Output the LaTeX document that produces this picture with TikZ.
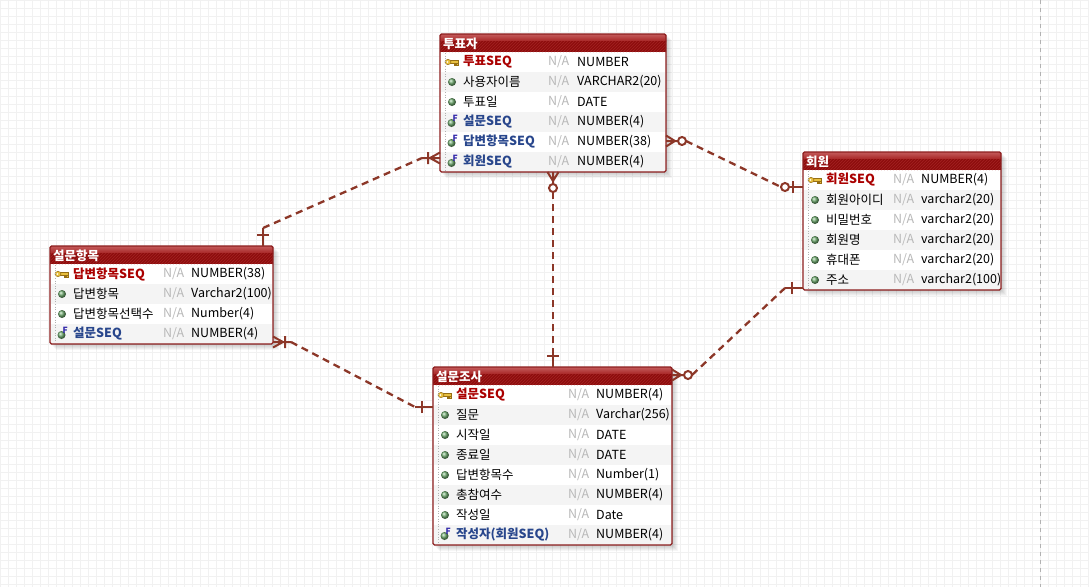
\documentclass[tikz,border=0pt]{standalone}
\usepackage{fontspec}
\setmainfont{Noto Sans CJK KR}
\usetikzlibrary{calc}
\definecolor{errel}{RGB}{140,55,40}
\definecolor{erborder}{RGB}{140,30,30}
\definecolor{pkred}{RGB}{170,0,0}
\definecolor{fkblue}{RGB}{40,70,140}
\definecolor{nagray}{RGB}{185,185,185}
\definecolor{rowgray}{RGB}{244,244,244}
\definecolor{gridc}{RGB}{241,241,241}
\definecolor{titletop}{RGB}{196,92,92}
\definecolor{titlemid}{RGB}{168,38,38}
\definecolor{titlebot}{RGB}{140,12,12}
\definecolor{hatchc}{RGB}{162,32,32}
\definecolor{ballg}{RGB}{110,170,110}
\definecolor{keyfill}{RGB}{232,192,64}
\definecolor{keydraw}{RGB}{150,110,20}
\definecolor{fkletter}{RGB}{50,40,170}

\newcommand\errowfont{\fontsize{12.5}{14}\selectfont}
\newcommand\ertitlefont{\fontsize{12.5}{14}\selectfont\bfseries}
\newcommand\ernamepk{\bfseries\color{pkred}}
\newcommand\ernameat{\color{black}}
\newcommand\ernamefk{\bfseries\color{fkblue}}

\newcommand\ericonat[2]{\shade[ball color=ballg] (#1,#2) circle (4);}
\newcommand\ericonfk[2]{\shade[ball color=ballg] (#1-0.5,#2+1) circle (4);
  \node[font=\fontsize{8.5}{8.5}\selectfont\bfseries, text=fkletter, inner sep=0] at (#1+3.2,#2-3.5) {F};}
\newcommand\ericonpk[2]{%
  \filldraw[fill=keyfill, draw=keydraw, line width=0.5] (#1-2,#2-1.3) rectangle (#1+6,#2+1.3);
  \filldraw[fill=keyfill, draw=keydraw, line width=0.5] (#1+2,#2+1.3) rectangle (#1+3.4,#2+3.2);
  \filldraw[fill=keyfill, draw=keydraw, line width=0.5] (#1+4.4,#2+1.3) rectangle (#1+5.8,#2+3.2);
  \filldraw[fill=keyfill, draw=keydraw, line width=0.5] (#1-4,#2) ellipse (3 and 2.6);
  \fill[white] (#1-4.6,#2) circle (0.9);}

% #1 name, #2 x, #3 y, #4 width, #5 rows, #6 title, #7 N/A offset, #8 type offset, #9 rows
\newcommand\ertable[9]{%
  \pgfmathsetmacro\erh{18+20*#5}
  \foreach \s in {1,...,6} \fill[black, opacity=0.035] (#2+\s,#3+\s) rectangle (#2+#4+\s,#3+\erh+\s);
  \node[fill=white, minimum width=#4, minimum height=\erh, inner sep=0, outer sep=0, anchor=north west] (#1) at (#2,#3) {};
  \shade[top color=titletop, bottom color=titlemid] (#2,#3) rectangle (#2+#4,#3+7);
  \fill[titlebot] (#2,#3+7) rectangle (#2+#4,#3+18);
  \begin{scope}
    \clip (#2,#3+7) rectangle (#2+#4,#3+18);
    \foreach \h in {0,3,...,264} \draw[hatchc, line width=0.7] (#2+\h-12,#3+18) -- (#2+\h,#3+6);
  \end{scope}
  \node[anchor=west, inner sep=0, text=white, font=\ertitlefont] (#1t) at (#2+3,#3+9.5) {#6};
  \foreach \ic/\nm/\ty [count=\i from 0] in {#9} {
    \pgfmathsetmacro\ery{#3+18+20*\i}
    \pgfmathsetmacro\eryc{\ery+10}
    \ifodd\i \fill[rowgray] (#2+1,\ery) rectangle (#2+#4-1,\ery+20); \fi
    \csname ericon\ic\endcsname{#2+12}{\eryc}
    \node[anchor=west, inner sep=0, font=\errowfont] (#1n\i) at (#2+23,\eryc) {\csname ername\ic\endcsname \nm};
    \node[anchor=west, inner sep=0, font=\errowfont, text=nagray] (#1a\i) at (#2+#7,\eryc) {N/A};
    \node[anchor=west, inner sep=0, font=\errowfont] (#1y\i) at (#2+#8,\eryc) {\ty};
  }
  \draw[gray!60, dotted, line width=0.6] (#2+5,#3+19) -- (#2+5,#3+\erh-1);
  \draw[erborder, line width=1.2, rounded corners=1.5] (#1.north west) rectangle (#1.south east);
}

\tikzset{
  erline/.style={errel, line width=2},
  erdash/.style={errel, line width=2.3, dash pattern=on 7pt off 5pt},
  pics/erone/.style={code={\draw[erline] (0,0)--(18,0) (11,-6)--(11,6);}},
  pics/eronemany/.style={code={\draw[erline] (0,0)--(18,0) (12,-6)--(12,6) (10,0)--(0,-5.5) (10,0)--(0,5.5);}},
  pics/erzeromany/.style={code={\draw[erline] (0,0)--(12,0) (9,0)--(0,-5.5) (9,0)--(0,5.5); \draw[erline, fill=white] (16,0) circle (4);}},
  pics/erzeroone/.style={code={\draw[erline] (0,0)--(14,0) (10,-6)--(10,6); \draw[erline, fill=white] (18,0) circle (4);}},
}

\begin{document}
\begin{tikzpicture}[x=1pt,y=-1pt]
\useasboundingbox (0,0) rectangle (1089,587);
\fill[white] (0,0) rectangle (1089,587);
\draw[gridc, line width=1, step=8pt] (0,587) grid (1089,0);
\draw[gray!60, line width=1, dash pattern=on 4pt off 4pt] (1040,0) -- (1040,587);

\ertable{tp}{440}{34}{226}{6}{투표자}{108}{137}{pk/투표SEQ/NUMBER, at/사용자이름/VARCHAR2(20), at/투표일/DATE, fk/설문SEQ/NUMBER(4), fk/답변항목SEQ/NUMBER(38), fk/회원SEQ/NUMBER(4)}
\ertable{hw}{803}{152}{198}{6}{회원}{90}{118}{pk/회원SEQ/NUMBER(4), at/회원아이디/varchar2(20), at/비밀번호/varchar2(20), at/회원명/varchar2(20), at/휴대폰/varchar2(20), at/주소/varchar2(100)}
\ertable{sh}{50}{246}{223}{4}{설문항목}{113}{141}{pk/답변항목SEQ/NUMBER(38), at/답변항목/Varchar2(100), at/답변항목선택수/Number(4), fk/설문SEQ/NUMBER(4)}
\ertable{sj}{433}{367}{239}{8}{설문조사}{135}{163}{pk/설문SEQ/NUMBER(4), at/질문/Varchar(256), at/시작일/DATE, at/종료일/DATE, at/답변항목수/Number(1), at/총참여수/NUMBER(4), at/작성일/Date, fk/작성자(회원SEQ)/NUMBER(4)}

% connector end points on the tables
\coordinate (c1a) at ($(sh.north west)+(213,0)$);
\coordinate (c1b) at ($(tp.north west)+(0,124)$);
\coordinate (c2a) at ($(tp.north east)+(0,107)$);
\coordinate (c2b) at ($(hw.north west)+(0,35)$);
\coordinate (c3a) at ($(tp.south west)+(113,0)$);
\coordinate (c3b) at ($(sj.north west)+(120,0)$);
\coordinate (c4a) at ($(sh.north east)+(0,96)$);
\coordinate (c4b) at ($(sj.north west)+(0,40)$);
\coordinate (c5a) at ($(hw.north west)+(0,136)$);
\coordinate (c5b) at ($(sj.north east)+(0,8)$);

% 설문항목 -> 투표자
\pic[rotate=90] at (c1a) {erone};
\pic[rotate=180] at (c1b) {eronemany};
\draw[erdash] ($(c1a)+(0,-18)$) -- ($(c1b)+(-18,0)$);
% 투표자 -> 회원
\pic at (c2a) {erzeromany};
\pic[rotate=180] at (c2b) {erzeroone};
\draw[erdash] ($(c2a)+(20,0)$) -- ($(c2b)+(-22,0)$);
% 투표자 -> 설문조사
\pic[rotate=-90] at (c3a) {erzeromany};
\pic[rotate=90] at (c3b) {erone};
\draw[erdash] ($(c3a)+(0,20)$) -- ($(c3b)+(0,-18)$);
% 설문항목 -> 설문조사
\pic at (c4a) {eronemany};
\pic[rotate=180] at (c4b) {erone};
\draw[erdash] ($(c4a)+(18,0)$) -- ($(c4b)+(-18,0)$);
% 회원 -> 설문조사
\pic[rotate=180] at (c5a) {erone};
\pic at (c5b) {erzeromany};
\draw[erdash] ($(c5a)+(-18,0)$) -- ($(c5b)+(20,0)$);
\end{tikzpicture}
\end{document}
